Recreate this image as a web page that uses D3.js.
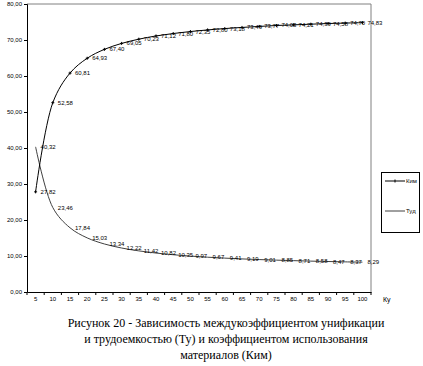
<!DOCTYPE html>
<html>
<head>
<meta charset="utf-8">
<script src="https://cdn.jsdelivr.net/npm/d3@7"></script>
<style>
  body { margin: 0; background: #fff; }
  svg { display: block; }
  .tick text { font-family: Arial, "Liberation Sans", sans-serif; }
</style>
</head>
<body>
<svg class="chart" width="423" height="366"></svg>
<script>
let categories = [5, 10, 15, 20, 25, 30, 35, 40, 45, 50, 55, 60, 65, 70, 75, 80, 85, 90, 95, 100]
let kim = [27.82, 52.58, 60.81, 64.93, 67.40, 69.05, 70.23, 71.12, 71.80, 72.35,
  72.80, 73.18, 73.49, 73.77, 74.03, 74.21, 74.39, 74.58, 74.70, 74.83]
let tud = [40.32, 23.46, 17.84, 15.03, 13.34, 12.22, 11.42, 10.82, 10.35, 9.97,
  9.67, 9.41, 9.19, 9.01, 8.85, 8.71, 8.58, 8.47, 8.37, 8.29]
let yTicks = [0, 10, 20, 30, 40, 50, 60, 70, 80]
let seriesNames = ['Ким', 'Туд']
let captionLines = [
  'Рисунок 20 - Зависимость междукоэффициентом унификации',
  'и трудоемкостью (Ту) и коэффициентом использования',
  'материалов (Ким)'
]

let svg = d3.select('.chart')
let fmt = v => v.toFixed(2).replace('.', ',')

let x = d3.scaleBand()
  .domain(categories)
  .range([27, 371])

let y = d3.scaleLinear()
  .domain([0, 80])
  .range([292, 4])

// plot area frame (top + right, gray)
svg.append('path')
  .attr('d', `M27,${y(80)}H371V${y(0)}`)
  .attr('fill', 'none')
  .attr('stroke', '#808080')
  .attr('stroke-width', 1)

let yAxis = svg.append('g')
  .attr('transform', 'translate(27,0)')
  .call(d3.axisLeft(y).tickValues(yTicks).tickFormat(fmt).tickSize(3).tickPadding(2))
yAxis.select('.domain').attr('stroke', '#000')
yAxis.selectAll('text').attr('font-size', 6).attr('fill', '#000')

let xAxis = svg.append('g')
  .attr('transform', `translate(0,${y(0)})`)
  .call(d3.axisBottom(x).tickSize(0).tickPadding(5))
xAxis.select('.domain').attr('stroke', '#000')
xAxis.selectAll('text').attr('font-size', 6).attr('fill', '#000')

// ticks between categories
xAxis.selectAll('.sep')
  .data(categories.concat([null]))
  .enter()
  .append('line')
  .attr('x1', (d, i) => 27 + i * x.step())
  .attr('x2', (d, i) => 27 + i * x.step())
  .attr('y1', 0)
  .attr('y2', 3)
  .attr('stroke', '#000')

svg.append('text')
  .attr('x', 383)
  .attr('y', 302)
  .attr('font-family', 'Arial, sans-serif')
  .attr('font-size', 7)
  .text('Ку')

let cx = d => x(d) + x.bandwidth() / 2

let line = d3.line()
  .x((d, i) => cx(categories[i]))
  .y(d => y(d))
  .curve(d3.curveCatmullRom)

svg.append('path')
  .datum(tud)
  .attr('d', line)
  .attr('fill', 'none')
  .attr('stroke', '#404040')
  .attr('stroke-width', 1)

svg.append('path')
  .datum(kim)
  .attr('d', line)
  .attr('fill', 'none')
  .attr('stroke', '#000')
  .attr('stroke-width', 1)

// kim markers: small plus
svg.selectAll('.kim-mark')
  .data(kim)
  .enter()
  .append('path')
  .attr('d', (d, i) => `M${cx(categories[i]) - 1.5},${y(d)}h3M${cx(categories[i])},${y(d) - 1.5}v3`)
  .attr('stroke', '#000')
  .attr('stroke-width', 1)

let labels = [
  {vals: kim},
  {vals: tud}
]

labels.forEach(s => {
  svg.append('g')
    .selectAll('text')
    .data(s.vals)
    .enter()
    .append('text')
    .attr('x', (d, i) => cx(categories[i]) + 5)
    .attr('y', d => y(d) + 2)
    .attr('font-family', 'Arial, sans-serif')
    .attr('font-size', 6)
    .attr('fill', '#000')
    .text(fmt)
})

// legend
let legend = svg.append('g')
legend.append('rect')
  .attr('x', 381.5).attr('y', 172.5)
  .attr('width', 38).attr('height', 60)
  .attr('fill', '#fff')
  .attr('stroke', '#000')

seriesNames.forEach((name, i) => {
  let ly = 181 + i * 30
  legend.append('line')
    .attr('x1', 385).attr('x2', 405)
    .attr('y1', ly).attr('y2', ly)
    .attr('stroke', i === 0 ? '#000' : '#404040')
  if (i === 0) {
    legend.append('path')
      .attr('d', `M395,${ly - 1.5}v3`)
      .attr('stroke', '#000')
  }
  legend.append('text')
    .attr('x', 406).attr('y', ly + 2)
    .attr('font-family', 'Arial, sans-serif')
    .attr('font-size', 6)
    .text(name)
})

// caption
svg.append('g')
  .selectAll('text')
  .data(captionLines)
  .enter()
  .append('text')
  .attr('x', 226)
  .attr('y', (d, i) => 327 + i * 16)
  .attr('text-anchor', 'middle')
  .attr('font-family', '"Liberation Serif", "Times New Roman", serif')
  .attr('font-size', 12)
  .text(d => d)
</script>
</body>
</html>
